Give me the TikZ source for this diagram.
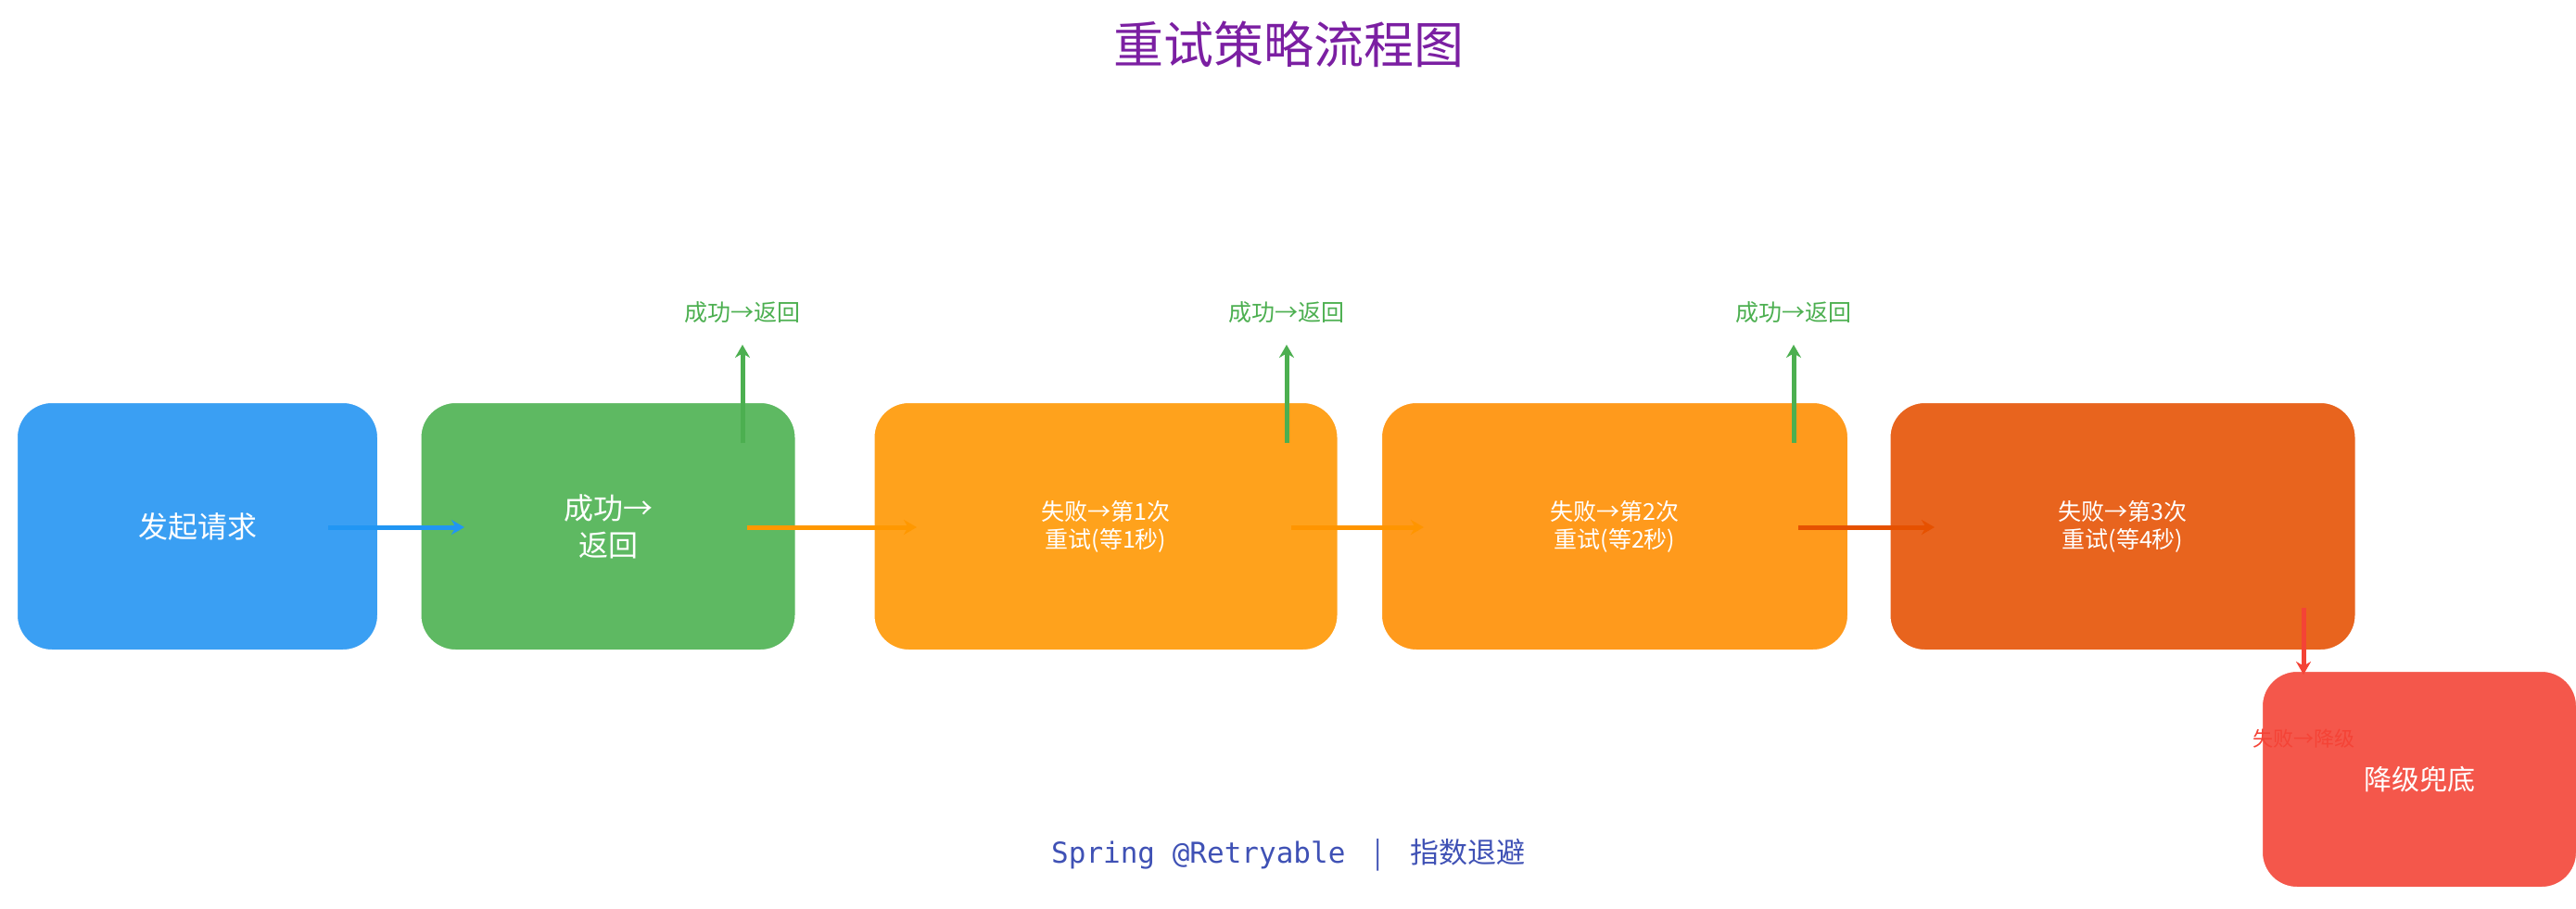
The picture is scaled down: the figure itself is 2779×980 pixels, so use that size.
\documentclass[tikz,border=0pt]{standalone}
\usepackage{fontspec}
\setmainfont{Noto Sans CJK SC}
\newfontfamily\monof{DejaVu Sans Mono}
\usetikzlibrary{arrows.meta}
\definecolor{cblue}{HTML}{3A9FF3}
\definecolor{cgreen}{HTML}{5EB962}
\definecolor{corange}{HTML}{FFA21C}
\definecolor{corange2}{HTML}{FF9A1C}
\definecolor{cdark}{HTML}{E8641E}
\definecolor{cred}{HTML}{F4574B}
\definecolor{agreen}{HTML}{4CAF50}
\definecolor{ablue}{HTML}{2196F3}
\definecolor{aorange}{HTML}{FF9800}
\definecolor{adark}{HTML}{E65100}
\definecolor{ared}{HTML}{F44336}
\definecolor{ctitle}{HTML}{7B1FA2}
\definecolor{cfoot}{HTML}{3F51B5}
\tikzset{
 box/.style={rounded corners=38pt,draw=white,line width=2pt,text=white,align=center,inner sep=0pt},
 conn/.style={line width=5pt,-{Stealth[length=14pt,width=16pt]}},
 lab/.style={font=\fontsize{25}{28}\selectfont,text=agreen}
}
\begin{document}
\begin{tikzpicture}[x=1pt,y=-1pt]
\useasboundingbox (0,0) rectangle (2779,980);
\node[font=\fontsize{54}{60}\selectfont,text=ctitle] (title) at (1390,48) {重试策略流程图};
\node[box,fill=cblue,minimum width=390pt,minimum height=268pt,font=\fontsize{32}{38}\selectfont] (b1) at (213,568) {发起请求};
\node[box,fill=cgreen,minimum width=405pt,minimum height=268pt,font=\fontsize{32}{40}\selectfont] (b2) at (656,568) {成功→\\返回};
\node[box,fill=corange,minimum width=501pt,minimum height=268pt,font=\fontsize{25}{30}\selectfont] (b3) at (1193,568) {失败→第1次\\重试(等1秒)};
\node[box,fill=corange2,minimum width=504pt,minimum height=268pt,font=\fontsize{25}{30}\selectfont] (b4) at (1742,568) {失败→第2次\\重试(等2秒)};
\node[box,fill=cdark,minimum width=503pt,minimum height=268pt,font=\fontsize{25}{30}\selectfont] (b5) at (2290,568) {失败→第3次\\重试(等4秒)};
\node[box,fill=cred,minimum width=340pt,minimum height=234pt,font=\fontsize{30}{36}\selectfont] (b6) at (2610,841) {降级兜底};
\node[lab] (s1) at (801,337) {成功→返回};
\node[lab] (s2) at (1388,337) {成功→返回};
\node[lab] (s3) at (1935,337) {成功→返回};
\coordinate (u1) at (801,478); \coordinate (v1) at (801,372);
\coordinate (u2) at (1388,478); \coordinate (v2) at (1388,372);
\coordinate (u3) at (1935,478); \coordinate (v3) at (1935,372);
\draw[conn,agreen] (u1) -- (v1);
\draw[conn,agreen] (u2) -- (v2);
\draw[conn,agreen] (u3) -- (v3);
\coordinate (h1) at (354,569); \coordinate (h1e) at (501,569);
\coordinate (h2) at (806,569); \coordinate (h2e) at (989,569);
\coordinate (h3) at (1393,569); \coordinate (h3e) at (1536,569);
\coordinate (h4) at (1940,569); \coordinate (h4e) at (2087,569);
\draw[conn,ablue] (h1) -- (h1e);
\draw[conn,aorange] (h2) -- (h2e);
\draw[conn,aorange!90!orange] (h3) -- (h3e);
\draw[conn,adark] (h4) -- (h4e);
\coordinate (d1) at (2485,656); \coordinate (d1e) at (2485,728);
\draw[conn,ared] (d1) -- (d1e);
\node[font=\fontsize{22}{26}\selectfont,text=ared] (fl) at (2485,797) {失败→降级};
\node[font=\fontsize{31}{36}\selectfont,text=cfoot] (foot) at (1390,923) {{\monof Spring @Retryable}\quad |\quad 指数退避};
\end{tikzpicture}
\end{document}
